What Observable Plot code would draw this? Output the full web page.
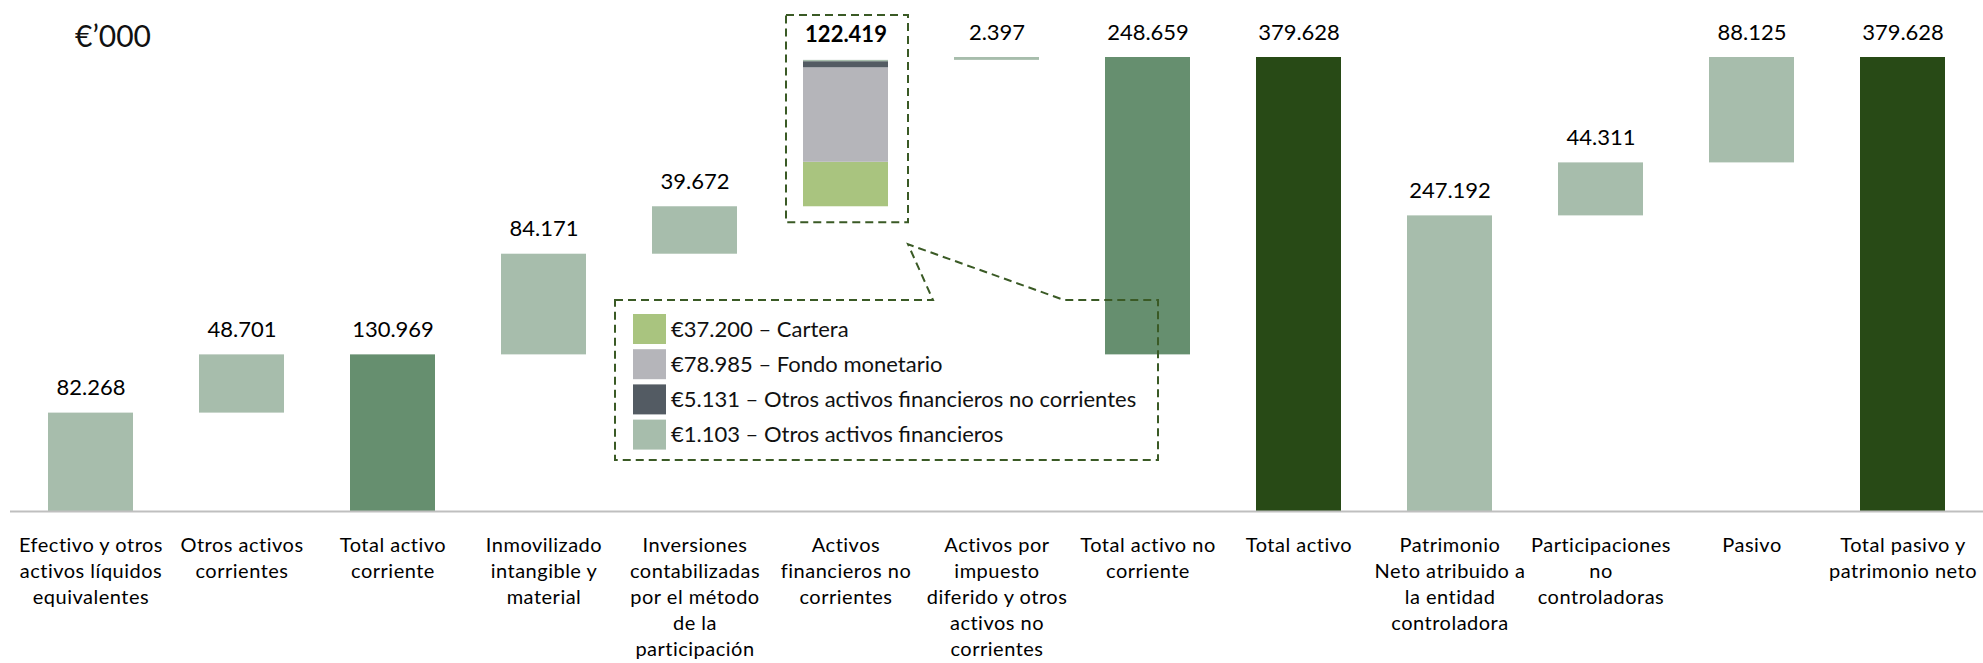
<!DOCTYPE html>
<html>
<head>
<meta charset="utf-8">
<script src="https://cdn.jsdelivr.net/npm/d3@7"></script>
<script src="https://cdn.jsdelivr.net/npm/@observablehq/plot@0.6"></script>
<style>
  html, body { margin: 0; padding: 0; background: #fff; }
  #chart { position: relative; width: 1983px; height: 663px; }
  svg { display: block; }
</style>
</head>
<body>
<div id="chart"></div>
<script>
// ---- data ----
const categories = [
  "Efectivo y otros activos líquidos equivalentes",
  "Otros activos corrientes",
  "Total activo corriente",
  "Inmovilizado intangible y material",
  "Inversiones contabilizadas por el método de la participación",
  "Activos financieros no corrientes",
  "Activos por impuesto diferido y otros activos no corrientes",
  "Total activo no corriente",
  "Total activo",
  "Patrimonio Neto atribuido a la entidad controladora",
  "Participaciones no controladoras",
  "Pasivo",
  "Total pasivo y patrimonio neto"
];
const tickLabels = [
  "Efectivo y otros\nactivos líquidos\nequivalentes",
  "Otros activos\ncorrientes",
  "Total activo\ncorriente",
  "Inmovilizado\nintangible y\nmaterial",
  "Inversiones\ncontabilizadas\npor el método\nde la\nparticipación",
  "Activos\nfinancieros no\ncorrientes",
  "Activos por\nimpuesto\ndiferido y otros\nactivos no\ncorrientes",
  "Total activo no\ncorriente",
  "Total activo",
  "Patrimonio\nNeto atribuido a\nla entidad\ncontroladora",
  "Participaciones\nno\ncontroladoras",
  "Pasivo",
  "Total pasivo y\npatrimonio neto"
];
const values = [82268, 48701, 130969, 84171, 39672, 122419, 2397, 248659, 379628, 247192, 44311, 88125, 379628];
// step = floating increment, subtotal/total = from zero, partial = floating subtotal, stack = increment split in parts
const barTypes = ["step", "step", "subtotal", "step", "step", "stack", "step", "partial", "total", "step", "step", "step", "total"];
const sections = ["activo", "activo", "activo", "activo", "activo", "activo", "activo", "activo", "activo", "pasivo", "pasivo", "pasivo", "pasivo"];
const breakdownLabels = ["Cartera", "Fondo monetario", "Otros activos financieros no corrientes", "Otros activos financieros"];
const breakdownValues = [37200, 78985, 5131, 1103];
const unitLabel = "€’000";

// ---- styles ----
const typeColor = { step: "#A7BDAC", subtotal: "#668F6F", partial: "#668F6F", total: "#284A16" };
const breakdownColors = ["#A9C47F", "#B5B5BA", "#535B63", "#A7BDAC"];
const dashColor = "#3A5A25";
const fontFamily = "Lato, 'Open Sans', sans-serif";

const es = d3.formatLocale({ decimal: ",", thousands: ".", grouping: [3], currency: ["€", ""] });
const fmt = es.format(",.0f");

// ---- waterfall geometry from values ----
const bars = [];
const labels = [];
let run = 0;
values.forEach((v, i) => {
  if (i > 0 && sections[i] !== sections[i - 1]) run = 0;
  const t = barTypes[i], cat = categories[i];
  let y1, y2;
  if (t === "step") { y1 = run; y2 = run + v; run += v; bars.push({ cat, y1, y2, fill: typeColor.step }); }
  else if (t === "stack") {
    y1 = run; let s = run;
    breakdownValues.forEach((b, j) => { bars.push({ cat, y1: s, y2: s + b, fill: breakdownColors[j] }); s += b; });
    y2 = s; run = s;
  }
  else if (t === "partial") { y1 = run - v; y2 = run; bars.push({ cat, y1, y2, fill: typeColor.partial }); }
  else { y1 = 0; y2 = v; bars.push({ cat, y1, y2, fill: typeColor[t] }); }
  labels.push({ cat, y: y2, text: fmt(v), bold: t === "stack", base: y1 });
});

const plot = Plot.plot({
  width: 1983,
  height: 663,
  marginTop: 57,
  marginBottom: 152,
  marginLeft: 10,
  marginRight: 0,
  style: { fontFamily, color: "#000", background: "#fff" },
  x: { domain: categories, paddingInner: 0.439, paddingOuter: 0.22, label: null },
  y: { domain: [0, d3.max(values)], axis: null },
  color: { type: "identity" },
  marks: [
    Plot.barY(bars, { x: "cat", y1: "y1", y2: "y2", fill: "fill" }),
    Plot.ruleY([0], { stroke: "#BFBFBF", strokeWidth: 2 }),
    Plot.text(labels.filter(d => !d.bold), { x: "cat", y: "y", text: "text", dy: -25, fontSize: 22, fill: "#000" }),
    Plot.text(labels.filter(d => d.bold), { x: "cat", y: "y", text: "text", dy: -25, fontSize: 22, fontWeight: "bold", fill: "#000" }),
    Plot.axisX({
      tickSize: 0, tickPadding: 22, fontSize: 20, lineHeight: 1.3, label: null,
      tickFormat: d => tickLabels[categories.indexOf(d)], fill: "#000"
    })
  ]
});

document.getElementById("chart").appendChild(plot);
d3.select(plot).selectAll("[aria-label='x-axis tick label'] text, g[aria-label='x-axis tick label']")
  .style("letter-spacing", "0.5px");

// ---- annotations: unit label, dashed callout box and legend ----
const svg = d3.select(plot);
const x = plot.scale("x"), y = plot.scale("y");
const bw = x.bandwidth;
const stackLabel = labels.find(d => d.bold);
const bx0 = x.apply(stackLabel.cat) - 17;
const bx1 = x.apply(stackLabel.cat) + bw + 20;
const by0 = y.apply(d3.max(values)) - 42;
const by1 = y.apply(stackLabel.base) + 16;

const g = svg.append("g").attr("fill", "none").attr("stroke", dashColor)
  .attr("stroke-width", 2).attr("stroke-dasharray", "8,5");
g.append("rect").attr("x", bx0).attr("y", by0).attr("width", bx1 - bx0).attr("height", by1 - by0);

// callout
const L = 615, R = 1158, T = 300, B = 460;
const apex = [bx1, by1 + 22];
g.append("path").attr("d",
  `M${L},${T} L933,${T} L${apex[0]},${apex[1]} L1064,${T} L${R},${T} L${R},${B} L${L},${B} Z`);

const lg = svg.append("g").attr("font-family", fontFamily).attr("text-anchor", "start");
breakdownLabels.forEach((name, i) => {
  const cy = 329 + i * 35.2;
  lg.append("rect").attr("x", 633).attr("y", cy - 15).attr("width", 33).attr("height", 30)
    .attr("fill", breakdownColors[i]);
  lg.append("text").attr("x", 671).attr("y", cy).attr("dy", "0.35em")
    .attr("font-size", 22).attr("fill", "#111")
    .text(`€${fmt(breakdownValues[i])} – ${name}`);
});

svg.append("text").attr("x", 75).attr("y", 47).attr("font-family", fontFamily)
  .attr("text-anchor", "start").attr("font-size", 30).attr("fill", "#111").text(unitLabel);
</script>
</body>
</html>
